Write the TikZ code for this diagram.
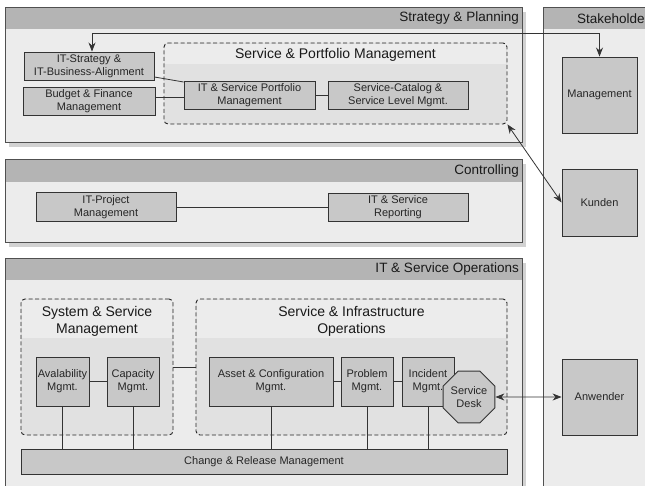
\documentclass[tikz,border=0pt]{standalone}
\usepackage{fontspec}
\setmainfont{Liberation Sans}
\usetikzlibrary{arrows.meta,shapes.geometric}
\definecolor{panelbg}{HTML}{ECECEC}
\definecolor{panelhd}{HTML}{B4B4B4}
\definecolor{boxfill}{HTML}{C8C8C8}
\definecolor{grpfill}{HTML}{E1E1E1}
\definecolor{shadowc}{HTML}{D2D2D2}
\definecolor{linec}{HTML}{333333}
\definecolor{panelline}{HTML}{505050}
\begin{document}
\begin{tikzpicture}[x=1pt,y=-1pt,
  conn/.style={draw=linec, line width=0.8pt},
  dbl/.style={conn, {Stealth[length=9pt,width=7pt]}-{Stealth[length=9pt,width=7pt]}},
  box/.style={draw=linec, fill=boxfill, line width=0.9pt, inner sep=1pt, align=center,
    font=\fontsize{11}{13}\selectfont, text=black!85},
  grp/.style={draw=black!85, dash pattern=on 4pt off 2.5pt, rounded corners=4pt, line width=0.9pt, inner sep=0pt},
  hdr/.style={font=\fontsize{13.5}{16}\selectfont, anchor=east, inner sep=0pt, text=black!90},
  gtitle/.style={font=\fontsize{14}{17}\selectfont, align=center, inner sep=0pt, text=black!90},
  pframe/.style={draw=panelline, line width=1pt},
]
\useasboundingbox (0,0) rectangle (645,486);
\fill[white] (0,0) rectangle (645,486);
\begin{scope}
\clip (0,0) rectangle (645,486);
% panels
\foreach \xa/\ya/\xb/\yb/\yh in {5/8/522/143/29, 5/160/522/243/182, 5/259/522/520/280, 543/8/700/520/29} {
  \fill[shadowc] (\xa+4,\ya+4) rectangle (\xb+4,\yb+4);
  \fill[panelbg] (\xa,\ya) rectangle (\xb,\yb);
  \fill[panelhd] (\xa,\ya) rectangle (\xb,\yh);
  \draw[pframe] (\xa,\ya) rectangle (\xb,\yb);
}
\node[hdr] (sphdr) at (519,18.5) {Strategy \& Planning};
\node[hdr] (cthdr) at (519,171) {Controlling};
\node[hdr] (ophdr) at (519,269.5) {IT \& Service Operations};
\node[hdr, anchor=west] (skhdr) at (577,18.5) {Stakeholder};

% dashed groups
\fill[grpfill, rounded corners=4pt] (164,43) rectangle (507,124);
\fill[panelbg] (165,44) rectangle (506,64);
\node[grp, minimum width=343pt, minimum height=81pt] (spm) at (335.5,83.5) {};
\node[gtitle] (spmt) at (335.5,55) {Service \& Portfolio Management};

\fill[grpfill, rounded corners=4pt] (21,299) rectangle (173,435);
\fill[panelbg] (22,300) rectangle (172,338);
\node[grp, minimum width=152pt, minimum height=136pt] (ssm) at (97,367) {};
\node[gtitle] (ssmt) at (97,321) {System \& Service\\Management};

\fill[grpfill, rounded corners=4pt] (196,299) rectangle (507,435);
\fill[panelbg] (197,300) rectangle (506,338);
\node[grp, minimum width=311pt, minimum height=136pt] (sio) at (351.5,367) {};
\node[gtitle] (siot) at (351.5,321) {Service \& Infrastructure\\Operations};

% boxes
\node[box, minimum width=130pt, minimum height=28pt] (itstrat) at (89,66) {IT-Strategy \&\\IT-Business-Alignment};
\node[box, minimum width=132pt, minimum height=28pt] (budget) at (89,101) {Budget \& Finance\\Management};
\node[box, minimum width=131pt, minimum height=28pt] (itport) at (249.5,95) {IT \& Service Portfolio\\Management};
\node[box, minimum width=140pt, minimum height=28pt] (catalog) at (398,95) {Service-Catalog \&\\Service Level Mgmt.};
\node[box, minimum width=140pt, minimum height=29pt] (itproj) at (106,207) {IT-Project\\Management};
\node[box, minimum width=140pt, minimum height=28pt] (report) at (398,207) {IT \& Service\\Reporting};
\node[box, minimum width=53pt, minimum height=49pt] (avail) at (62.5,381.5) {Avalability\\Mgmt.};
\node[box, minimum width=52pt, minimum height=49pt] (capac) at (133,381.5) {Capacity\\Mgmt.};
\node[box, minimum width=124pt, minimum height=49pt] (asset) at (271,381.5) {Asset \& Configuration\\Mgmt.};
\node[box, minimum width=52pt, minimum height=49pt] (problem) at (367,381.5) {Problem\\Mgmt.};
\node[box, minimum width=52pt, minimum height=49pt] (incident) at (428,381.5) {Incident\\Mgmt.};
\node[box, minimum width=486pt, minimum height=25pt] (change) at (264,461.5) {Change \& Release Management};
\node[box, minimum width=75pt, minimum height=76pt] (mgmt) at (599.5,95) {Management};
\node[box, minimum width=75pt, minimum height=67pt] (kunden) at (599.5,202.5) {Kunden};
\node[box, minimum width=75pt, minimum height=76pt] (anwender) at (599.5,397) {Anwender};

% connectors
\draw[conn] ([yshift=-11pt]itstrat.east) -- ([yshift=13pt]itport.west);
\draw[conn] ([yshift=4pt]budget.east) -- ([yshift=-2pt]itport.west);
\draw[conn] (itport) -- (catalog);
\draw[conn] (itproj) -- (report);
\draw[conn] (avail) -- (capac);
\draw[conn] (ssm) -- (sio);
\draw[conn] (asset) -- (problem);
\draw[conn] (problem) -- (incident);
\foreach \n in {avail,capac,asset,problem,incident}
  \draw[conn] (\n.south) -- (\n.south |- change.north);

\node[box, regular polygon, regular polygon sides=8, minimum size=52pt, inner sep=0pt] (desk) at (469,397) {Service\\Desk};

% arrows
\draw[dbl] ([xshift=3pt]itstrat.north) |- ([yshift=23pt]mgmt.north) -- (mgmt.north);
\draw[dbl] (spm.south east) -- (kunden.west);
\draw[dbl] (desk.east) -- (anwender.west);
\end{scope}
\end{tikzpicture}
\end{document}
